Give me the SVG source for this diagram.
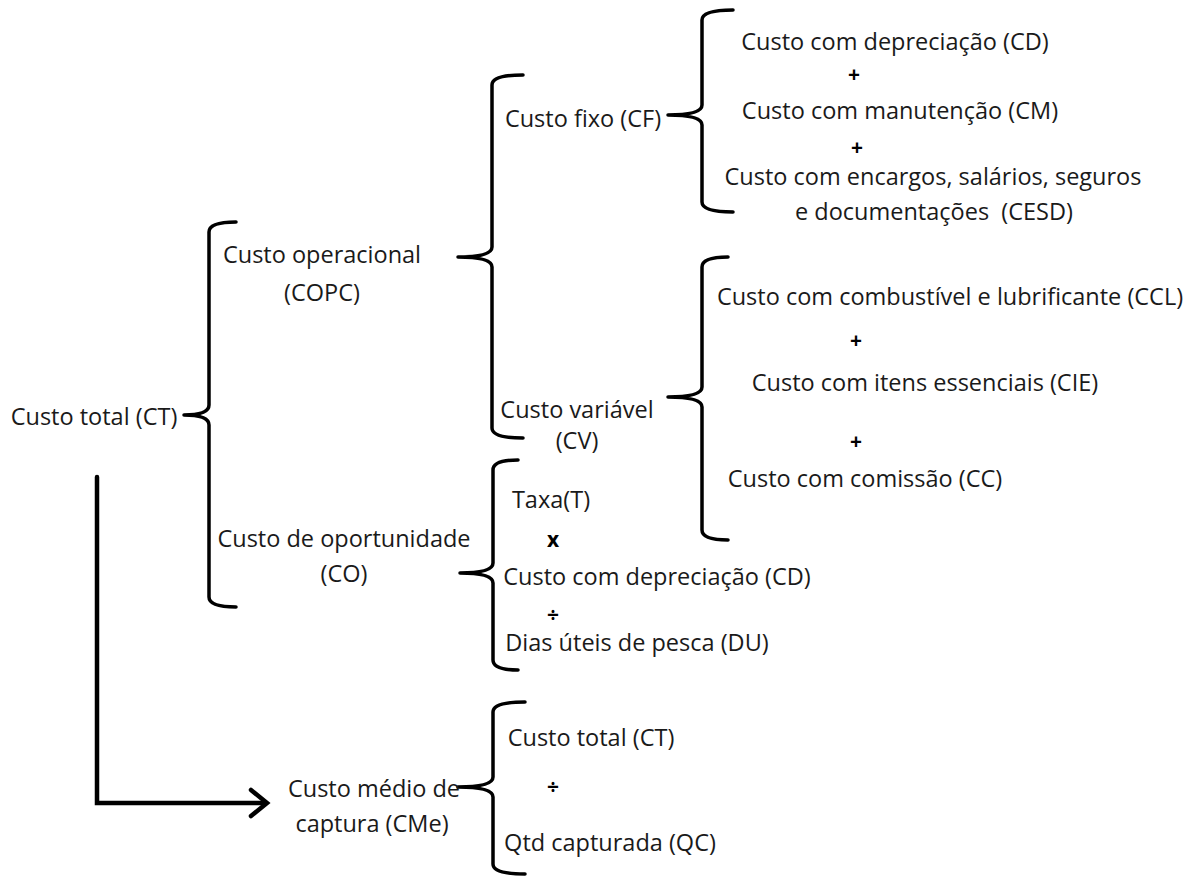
<svg xmlns="http://www.w3.org/2000/svg" width="1200" height="876" viewBox="0 0 1200 876">
<style>
text{font-family:"Open Sans","Liberation Sans",sans-serif;font-size:23.5px;fill:#1a1a1a;text-anchor:middle;white-space:pre}
.op{font-weight:bold;font-size:21px;fill:#000}
.br{fill:none;stroke:#000;stroke-width:3.5;stroke-linecap:round;stroke-linejoin:round}
.ar{fill:none;stroke:#000;stroke-width:4.5;stroke-linecap:round;stroke-linejoin:miter}
</style>
<rect width="1200" height="876" fill="#fff"/>
<g id="connectors">
<path class="br" d="M236,222 Q209,222 209,232 L209,405 Q209,415 184,415 Q209,415 209,425 L209,597 Q209,607 236,607"/>
<path class="br" d="M523,75 Q492,75 492,85 L492,247 Q492,257 458,257 Q492,257 492,267 L492,428 Q492,438 523,438"/>
<path class="br" d="M733,10 Q702,10 702,20 L702,105 Q702,115 668,115 Q702,115 702,125 L702,202 Q702,212 733,212"/>
<path class="br" d="M728,257 Q702,257 702,267 L702,387 Q702,397 668,397 Q702,397 702,407 L702,530 Q702,540 728,540"/>
<path class="br" d="M518,460 Q493,460 493,470 L493,563 Q493,573 460,573 Q493,573 493,583 L493,660 Q493,670 518,670"/>
<path class="br" d="M525,702 Q493,702 493,712 L493,777 Q493,787 458,787 Q493,787 493,797 L493,864 Q493,874 525,874"/>
<path class="ar" d="M97,477 L97,803 L265,803"/>
<path class="ar" d="M251,790 L267,803 L251,816"/>
</g>
<g id="n-ct"><text x="94" y="425">Custo total (CT)</text></g>
<g id="n-copc"><text x="322" y="263">Custo operacional</text><text x="322" y="301">(COPC)</text></g>
<g id="n-co"><text x="344" y="547">Custo de oportunidade</text><text x="344" y="582">(CO)</text></g>
<g id="n-cf"><text x="583" y="127">Custo fixo (CF)</text></g>
<g id="n-cv"><text x="577" y="418">Custo variável</text><text x="577" y="449">(CV)</text></g>
<g id="n-cf-items">
<text x="895" y="50">Custo com depreciação (CD)</text>
<text class="op" x="854" y="82">+</text>
<text x="900" y="119">Custo com manutenção (CM)</text>
<text class="op" x="857" y="155">+</text>
<text x="933" y="185">Custo com encargos, salários, seguros</text>
<text x="934" y="220">e documentações  (CESD)</text>
</g>
<g id="n-cv-items">
<text x="950" y="305">Custo com combustível e lubrificante (CCL)</text>
<text class="op" x="856" y="348">+</text>
<text x="925" y="391">Custo com itens essenciais (CIE)</text>
<text class="op" x="856" y="449">+</text>
<text x="865" y="487">Custo com comissão (CC)</text>
</g>
<g id="n-co-items">
<text x="551" y="508">Taxa(T)</text>
<text class="op" x="553" y="547">x</text>
<text x="657" y="585">Custo com depreciação (CD)</text>
<text class="op" x="553" y="622">÷</text>
<text x="637" y="651">Dias úteis de pesca (DU)</text>
</g>
<g id="n-cme"><text x="374" y="797">Custo médio de</text><text x="372" y="832">captura (CMe)</text></g>
<g id="n-cme-items">
<text x="591" y="746">Custo total (CT)</text>
<text class="op" x="553" y="794">÷</text>
<text x="610" y="851">Qtd capturada (QC)</text>
</g>
</svg>
